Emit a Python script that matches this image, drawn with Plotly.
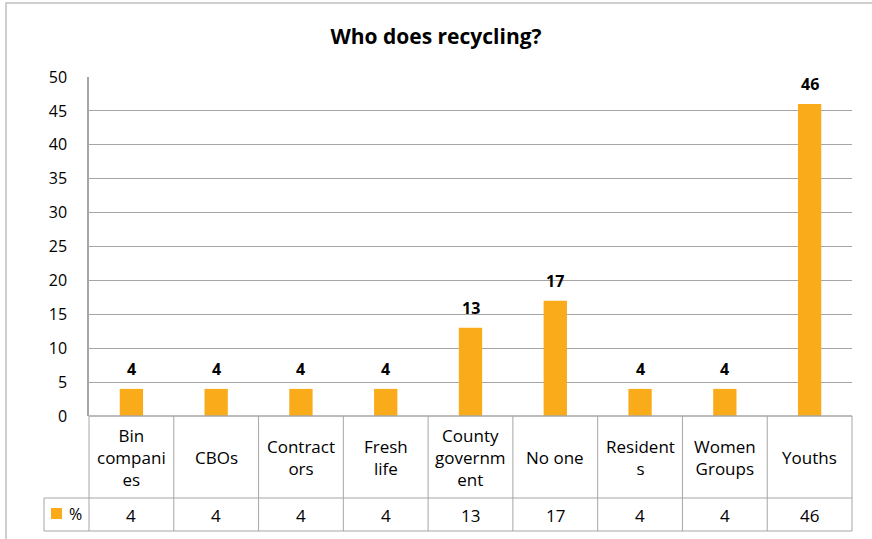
import plotly.graph_objects as go

# datos del grafico
categorias = ['Bin companies', 'CBOs', 'Contractors', 'Fresh life', 'County government',
              'No one', 'Residents', 'Women Groups', 'Youths']
etiquetas = ['Bin<br>compani<br>es', 'CBOs', 'Contract<br>ors', 'Fresh<br>life', 'County<br>governm<br>ent',
             'No one', 'Resident<br>s', 'Women<br>Groups', 'Youths']
porcentajes = [4, 4, 4, 4, 13, 17, 4, 4, 46]
serie = '%'
ticks_y = [0, 5, 10, 15, 20, 25, 30, 35, 40, 45, 50]

W, H = 872, 539
L, R, T, B = 89, 20, 77, 123
ph = H - T - B
pw = W - L - R
gris = '#A6A6A6'
naranja = '#FAAB1A'
fuente = 'Open Sans'


def py(px_y):
    """pixel vertical -> coordenada paper"""
    return (H - B - px_y) / ph


def px(px_x):
    """pixel horizontal -> coordenada paper"""
    return (px_x - L) / pw


fig = go.Figure()
fig.add_trace(go.Bar(
    x=list(range(len(categorias))),
    y=porcentajes,
    name=serie,
    marker=dict(color=naranja, line=dict(width=0)),
    width=0.275,
    hovertext=categorias,
    hovertemplate='%{hovertext}: %{y}<extra></extra>'
))

n = len(categorias)
shapes = []
annotations = []
y_hdr_bot = py(498)
y_tab_bot = py(531)
# lineas horizontales de la tabla
shapes.append(dict(type='line', xref='paper', yref='paper', x0=px(44), x1=1,
                   y0=y_hdr_bot, y1=y_hdr_bot, line=dict(color=gris, width=1)))
shapes.append(dict(type='line', xref='paper', yref='paper', x0=px(44), x1=1,
                   y0=y_tab_bot, y1=y_tab_bot, line=dict(color=gris, width=1)))
# linea izquierda de la columna de leyenda
shapes.append(dict(type='line', xref='paper', yref='paper', x0=px(44), x1=px(44),
                   y0=y_hdr_bot, y1=y_tab_bot, line=dict(color=gris, width=1)))
# lineas verticales
for i in range(n + 1):
    xp = i / n
    shapes.append(dict(type='line', xref='paper', yref='paper', x0=xp, x1=xp, y0=0, y1=y_tab_bot,
                       line=dict(color=gris, width=1)))
# linea del eje x
shapes.append(dict(type='line', xref='paper', yref='paper', x0=0, x1=1, y0=0, y1=0,
                   line=dict(color=gris, width=1.5)))
# marco exterior
shapes.append(dict(type='rect', xref='paper', yref='paper',
                   x0=px(6), x1=px(W + 5), y0=py(H + 5), y1=py(3),
                   line=dict(color='#C0C0C0', width=1.5)))
# cuadro de leyenda
shapes.append(dict(type='rect', xref='paper', yref='paper',
                   x0=px(51), x1=px(62), y0=py(519), y1=py(508),
                   fillcolor=naranja, line=dict(width=0)))

# etiquetas de datos sobre las barras
for i in range(n):
    annotations.append(dict(text='<b>%d</b>' % porcentajes[i], x=i, y=porcentajes[i], xref='x', yref='y',
                            showarrow=False, font=dict(family=fuente, size=16, color='black'),
                            xanchor='center', yanchor='bottom', yshift=7))

# tabla de datos
for i in range(n):
    xc = (i + 0.5) / n
    annotations.append(dict(text=etiquetas[i], x=xc, y=py(457), xref='paper', yref='paper',
                            showarrow=False, font=dict(family=fuente, size=17, color='black'),
                            align='center', xanchor='center', yanchor='middle'))
    annotations.append(dict(text=str(porcentajes[i]), x=xc, y=py(515), xref='paper', yref='paper',
                            showarrow=False, font=dict(family=fuente, size=17, color='black'),
                            xanchor='center', yanchor='middle'))
annotations.append(dict(text=serie, x=px(75), y=py(514), xref='paper', yref='paper',
                        showarrow=False, font=dict(family=fuente, size=16, color='black'),
                        xanchor='center', yanchor='middle'))

fig.update_layout(
    width=W, height=H,
    margin=dict(l=L, r=R, t=T, b=B),
    paper_bgcolor='white', plot_bgcolor='white',
    title=dict(text='<b>Who does recycling?</b>', x=0.5, xanchor='center', y=1 - 37 / H, yanchor='middle',
               font=dict(family=fuente, size=21, color='black')),
    showlegend=False,
    shapes=shapes,
    annotations=annotations,
    xaxis=dict(range=[-0.5, n - 0.5], showticklabels=False, showgrid=False, zeroline=False,
               showline=False, fixedrange=True),
    yaxis=dict(range=[0, 50], tickvals=ticks_y, showgrid=True, gridcolor=gris, gridwidth=1,
               zeroline=False, showline=True, linecolor=gris, linewidth=1.5,
               tickfont=dict(family=fuente, size=16, color='black'), ticklabelstandoff=17),
)

fig.write_html('out.html', config={'displayModeBar': False},
               post_script="document.body.style.margin='0';")
